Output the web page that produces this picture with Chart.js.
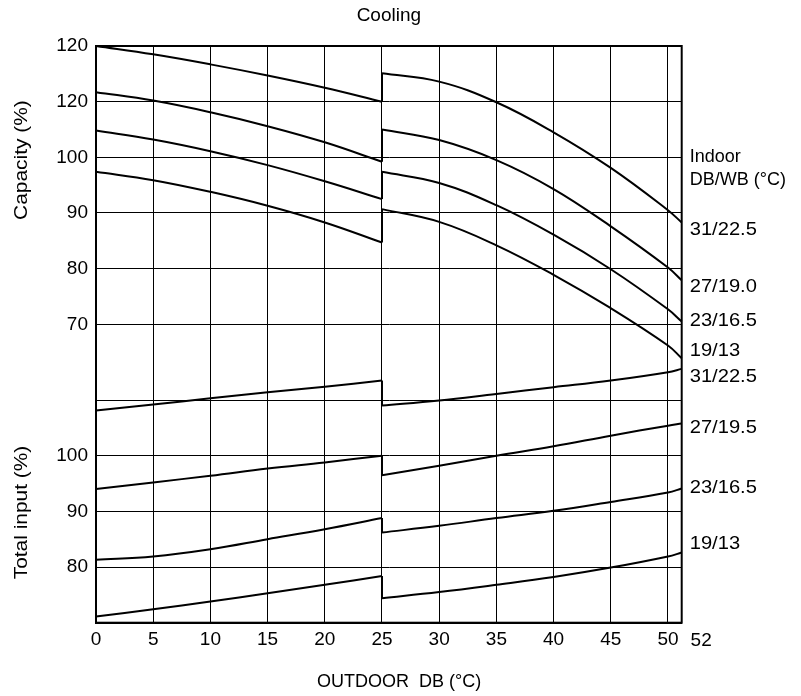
<!DOCTYPE html>
<html><head><meta charset="utf-8">
<script src="https://cdn.jsdelivr.net/npm/chart.js@4"></script>
<style>html,body{margin:0;padding:0;background:#fff}#wrap{width:801px;height:696px;position:relative}</style>
</head><body><div id="wrap"><canvas id="c"></canvas></div>
<script>
// ---- data ----
const xLeft = [0, 5, 10, 15, 20, 25];
const xRight = [25, 30, 35, 40, 45, 50, 51.2];

// Capacity (%) curves, indoor DB/WB
const cap31Left  = [120.0, 118.5, 116.7, 114.7, 112.5, 110.0];
const cap31Right = [115.1, 113.6, 109.9, 104.5, 98.1, 90.5, 88.3];
const cap27Left  = [111.7, 110.2, 108.1, 105.6, 102.7, 99.2];
const cap27Right = [105.0, 103.1, 99.5, 94.3, 87.6, 80.2, 77.9];
const cap23Left  = [104.8, 103.2, 101.1, 98.6, 95.7, 92.5];
const cap23Right = [97.4, 95.4, 91.4, 86.1, 79.9, 72.7, 70.5];
const cap19Left  = [97.4, 95.9, 93.8, 91.3, 88.3, 84.7];
const cap19Right = [90.7, 88.4, 84.2, 78.9, 72.9, 66.2, 63.9];

// Total input (%) curves
const inp31Left  = [108.1, 109.2, 110.3, 111.4, 112.4, 113.5];
const inp31Right = [109.0, 109.9, 111.1, 112.3, 113.5, 115.0, 115.6];
const inp27Left  = [94.0, 95.2, 96.4, 97.7, 98.8, 100.0];
const inp27Right = [96.5, 98.2, 100.0, 101.7, 103.6, 105.4, 105.8];
const inp23Left  = [81.3, 81.9, 83.2, 85.0, 86.8, 88.8];
const inp23Right = [86.2, 87.4, 88.8, 90.1, 91.7, 93.4, 94.1];
const inp19Left  = [71.1, 72.4, 73.8, 75.3, 76.8, 78.4];
const inp19Right = [74.4, 75.5, 76.8, 78.2, 79.9, 81.9, 82.6];

// ticks
const xTickValues = [0, 5, 10, 15, 20, 25, 30, 35, 40, 45, 50, 51.2];
const xTickLabels = ['0', '5', '10', '15', '20', '25', '30', '35', '40', '45', '50', ''];
const xEndLabel = '52';
const capTickValues = [120, 110, 100, 90, 80, 70];
const capTickLabels = ['120', '120', '100', '90', '80', '70'];
const inpTickValues = [110, 100, 90, 80, 70];
const inpTickLabels = ['', '100', '90', '80', ''];

// labels
const legendHeading = ['Indoor', 'DB/WB (°C)'];
const capSeriesLabels = ['31/22.5', '27/19.0', '23/16.5', '19/13'];
const inpSeriesLabels = ['31/22.5', '27/19.5', '23/16.5', '19/13'];

// ---- layout constants (not data) ----
const CAP_MIN = 62.9, CAP_MAX = 120, INP_MIN = 70, INP_MAX = 116.5;
const X_MAX = 51.2;
const legendHeadingAt = [100.0, 95.9];
const capLabelAt = [87.0, 76.8, 70.6, 65.2];
const inpLabelAt = [114.15, 105.0, 94.2, 84.1];
const xEndLabelAt = 52.9;
const xTitleAt = 26.5;
const capTitleAt = 99.5, inpTitleAt = 89.8;
const FAMILY = '"Liberation Sans", Arial, Helvetica, sans-serif';
const TICK_FONT = {family: FAMILY, size: 19, weight: 'normal'};
const TITLE_FONT = {family: FAMILY, size: 19, weight: 'normal'};

const capacityCurves = [[cap31Left, cap31Right], [cap27Left, cap27Right], [cap23Left, cap23Right], [cap19Left, cap19Right]];
const inputCurves = [[inp31Left, inp31Right], [inp27Left, inp27Right], [inp23Left, inp23Right], [inp19Left, inp19Right]];

const pts = (xs, ys) => xs.map((x, i) => ({x: x, y: ys[i]}));
const datasets = [];
function addCurve(left, right, axis) {
  const base = {borderColor: '#000', borderWidth: 2, pointRadius: 0, fill: false, yAxisID: axis, xAxisID: 'x', clip: false};
  datasets.push(Object.assign({}, base, {data: pts(xLeft, left), tension: 0.4}));
  datasets.push(Object.assign({}, base, {data: pts(xRight, right), tension: 0.4}));
  datasets.push(Object.assign({}, base, {data: [{x: xLeft[xLeft.length - 1], y: left[left.length - 1]}, {x: xRight[0], y: right[0]}], tension: 0}));
}
capacityCurves.forEach(c => addCurve(c[0], c[1], 'yCap'));
inputCurves.forEach(c => addCurve(c[0], c[1], 'yInp'));

function stretchText(ctx, text, x, y, sx, rot) {
  ctx.save();
  ctx.translate(x, y);
  if (rot) ctx.rotate(rot);
  ctx.scale(sx, 1);
  ctx.fillText(text, 0, 0);
  ctx.restore();
}

const annotate = {
  id: 'annotate',
  afterDraw(chart) {
    const {ctx, chartArea, scales} = chart;
    ctx.save();
    ctx.fillStyle = '#000';
    ctx.textBaseline = 'middle';
    ctx.textAlign = 'left';
    const xr = chartArea.right + 8;
    ctx.font = '18px ' + FAMILY;
    legendHeading.forEach((t, i) => ctx.fillText(t, xr, scales.yCap.getPixelForValue(legendHeadingAt[i])));
    ctx.font = '19px ' + FAMILY;
    capSeriesLabels.forEach((t, i) => stretchText(ctx, t, xr, scales.yCap.getPixelForValue(capLabelAt[i]), 1.06));
    inpSeriesLabels.forEach((t, i) => stretchText(ctx, t, xr, scales.yInp.getPixelForValue(inpLabelAt[i]), 1.06));
    ctx.textAlign = 'center';
    ctx.fillText(xEndLabel, scales.x.getPixelForValue(xEndLabelAt), scales.x.top + 6.5 + 11.4);
    ctx.font = '18px ' + FAMILY;
    ctx.fillText('OUTDOOR  DB (°C)', scales.x.getPixelForValue(xTitleAt), 682);
    ctx.font = '19px ' + FAMILY;
    stretchText(ctx, 'Capacity (%)', 22, scales.yCap.getPixelForValue(capTitleAt), 1.1, -Math.PI / 2);
    stretchText(ctx, 'Total input (%)', 22, scales.yInp.getPixelForValue(inpTitleAt), 1.1, -Math.PI / 2);
    ctx.lineWidth = 2;
    ctx.strokeStyle = '#000';
    ctx.strokeRect(chartArea.left, chartArea.top, chartArea.right - chartArea.left, chartArea.bottom - chartArea.top);
    ctx.restore();
  }
};

const gridOpts = {color: '#000', lineWidth: 1, drawTicks: false};
const borderOpts = {color: '#000', width: 2};

new Chart(document.getElementById('c'), {
  type: 'line',
  data: {datasets: datasets},
  plugins: [annotate],
  options: {
    responsive: true,
    maintainAspectRatio: false,
    animation: false,
    devicePixelRatio: 1,
    layout: {padding: {left: 0, right: 119.3, top: 0, bottom: 0}},
    plugins: {
      legend: {display: false},
      tooltip: {enabled: false},
      title: {display: true, text: 'Cooling', fullSize: false, font: TITLE_FONT, color: '#000', padding: {top: 4, bottom: 19.2}}
    },
    scales: {
      x: {
        type: 'linear', position: 'bottom', min: 0, max: X_MAX,
        afterBuildTicks: s => { s.ticks = xTickValues.map(v => ({value: v})); },
        afterFit: s => { s.height = 73.3; },
        ticks: {
          autoSkip: false, maxRotation: 0, padding: 6, font: TICK_FONT, color: '#000',
          callback: v => { const i = xTickValues.indexOf(v); return i >= 0 ? xTickLabels[i] : ''; }
        },
        grid: gridOpts, border: borderOpts,
        title: {display: false}
      },
      yCap: {
        type: 'linear', position: 'left', stack: 'v', stackWeight: CAP_MAX - CAP_MIN, weight: 1,
        min: CAP_MIN, max: CAP_MAX,
        afterBuildTicks: s => { s.ticks = capTickValues.map(v => ({value: v})); },
        afterFit: s => { s.width = 96; },
        ticks: {
          padding: 8, font: TICK_FONT, color: '#000',
          callback: v => { const i = capTickValues.indexOf(v); return i >= 0 ? capTickLabels[i] : ''; }
        },
        grid: gridOpts, border: borderOpts
      },
      yInp: {
        type: 'linear', position: 'left', stack: 'v', stackWeight: INP_MAX - INP_MIN, weight: 0,
        min: INP_MIN, max: INP_MAX,
        afterBuildTicks: s => { s.ticks = inpTickValues.map(v => ({value: v})); },
        afterFit: s => { s.width = 96; },
        ticks: {
          padding: 8, font: TICK_FONT, color: '#000',
          callback: v => { const i = inpTickValues.indexOf(v); return i >= 0 ? inpTickLabels[i] : ''; }
        },
        grid: gridOpts, border: borderOpts
      }
    }
  }
});
</script>
</body></html>
